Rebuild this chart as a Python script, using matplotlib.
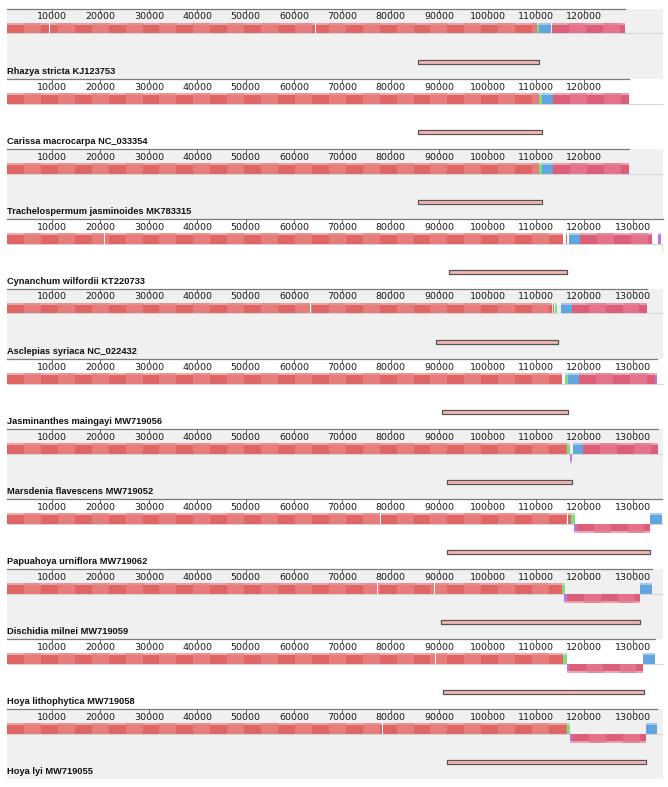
import numpy as np
import matplotlib
matplotlib.use("Agg")
import matplotlib.pyplot as plt

# ── genomes (top to bottom) ──
genomes = [
    "Rhazya stricta KJ123753",
    "Carissa macrocarpa NC_033354",
    "Trachelospermum jasminoides MK783315",
    "Cynanchum wilfordii KT220733",
    "Asclepias syriaca NC_022432",
    "Jasminanthes maingayi MW719056",
    "Marsdenia flavescens MW719052",
    "Papuahoya urniflora MW719062",
    "Dischidia milnei MW719059",
    "Hoya lithophytica MW719058",
    "Hoya lyi MW719055",
]
genome_len = [128400, 129300, 129300, 136200, 133000, 135060,
              135300, 135970, 133900, 134590, 134940]

# locally collinear blocks, (start, end) in bp, None = absent
red_lcb = [(700, 110270), (700, 110680), (700, 110620), (700, 115640),
           (700, 113240), (700, 115310), (700, 116340), (700, 116470),
           (700, 115310), (700, 115640), (700, 116470)]
red_extra = [None, None, None, (116200, 116400), (113450, 113720), None,
             None, (116670, 117200), None, None, None]
green_lcb = [(110270, 110680), (110680, 111180), (110620, 111240), None,
             (113930, 114300), (116030, 116710), (116340, 116960),
             (117200, 118060), (115310, 115990), (115640, 116340),
             (116470, 117030)]
blue_lcb = [(110680, 113100), (111180, 113570), (111240, 113570),
            (116880, 119090), (115170, 117380), (116670, 118950),
            (117640, 119770), (133550, 135970), (131490, 133900),
            (132170, 134590), (132670, 134940)]
pink_lcb = [(113300, 128390), (113570, 129280), (113570, 129280),
            (119090, 133900), (117380, 133000), (118950, 134590),
            (119770, 135270), (118410, 133550), (116340, 131490),
            (116760, 132170), (117440, 132670)]
pink_inverted = [False, False, False, False, False, False, False,
                 True, True, True, True]
purple_lcb = [None, None, None, (135270, 135770), None, (134590, 135060),
              (116960, 117500), (117910, 118410), (115850, 116340),
              (116340, 116760), (117030, 117440)]
purple_inverted = [False, False, False, False, False, False, True,
                   True, True, True, True]
yellow_lcb = [None, None, None, (135930, 136200), None, None, None,
              None, None, None, None]

# white gaps inside the first block
gaps = [[9380, 64340], [], [], [20740], [63300], [], [],
        [77800, 94000, 94200], [77100, 88900], [89150], [78120]]

# boxed region under each track
ir_box = [(85560, 110680), (85620, 111180), (85620, 111240),
          (92020, 116340), (89340, 114610), (90580, 116710),
          (91610, 117380), (91670, 133550), (90370, 131490),
          (90850, 132380), (91670, 132670)]

# ── style ──
W, H = 668, 787
PANEL = 70
TOP = 9
PX_PER_BP = 0.00484
X0_PX = 3.6
BG_START, BG_END = 700, 136300

COL_RED = ("#e06666", "#e77c7c")
COL_PINK = ("#dc5e78", "#e3728a")
COL_GREEN = "#7edc82"
COL_BLUE = "#62a6e0"
COL_PURPLE = "#c173e6"
COL_YELLOW = "#e8e89a"

fig = plt.figure(figsize=(W / 100, H / 100), dpi=100)
xlim = (-X0_PX / PX_PER_BP, (W - X0_PX) / PX_PER_BP)


def block(ax, span, colors, inverted=False, banded=False):
    if span is None:
        return
    s, e = span
    if inverted:
        solid, fuzz = (24.5, 7.2), (31.7, 2.4)
    else:
        solid, fuzz = (16.4, 8.1), (14.0, 2.4)
    base = colors[0] if banded else colors
    ax.broken_barh([(s, e - s)], solid, facecolors=base, lw=0, zorder=3)
    ax.broken_barh([(s, e - s)], fuzz, facecolors=base, alpha=0.55, lw=0, zorder=3)
    if banded:
        edges = np.arange(s, e, 3500)
        light = [(a, min(3500, e - a)) for a in edges[1::2]]
        ax.broken_barh(light, solid, facecolors=colors[1], lw=0, zorder=3)
        ax.broken_barh(light, fuzz, facecolors=colors[1], alpha=0.55, lw=0, zorder=3)


for i, name in enumerate(genomes):
    top_px = TOP + PANEL * i
    ax = fig.add_axes([0, 1 - (top_px + PANEL) / H, 1, PANEL / H])
    ax.set_xlim(*xlim)
    ax.set_ylim(PANEL, 0)
    ax.patch.set_visible(False)

    if i % 2 == 0:
        ax.broken_barh([(BG_START, BG_END - BG_START)], (0, PANEL),
                       facecolors="#f0f0f0", lw=0, zorder=0)
    ax.hlines(24.5, BG_START, BG_END, color="#d4d4d4", lw=0.7, zorder=1)

    block(ax, red_lcb[i], COL_RED, banded=True)
    block(ax, red_extra[i], COL_RED[0])
    block(ax, green_lcb[i], COL_GREEN)
    block(ax, blue_lcb[i], COL_BLUE)
    block(ax, pink_lcb[i], COL_PINK, inverted=pink_inverted[i], banded=True)
    block(ax, purple_lcb[i], COL_PURPLE, inverted=purple_inverted[i])
    block(ax, yellow_lcb[i], COL_YELLOW, inverted=True)
    for g in gaps[i]:
        ax.broken_barh([(g, 180)], (14, 10.5), facecolors="white", lw=0, zorder=4)

    b0, b1 = ir_box[i]
    ax.broken_barh([(b0, b1 - b0)], (50.6, 4.0), facecolors="#f7b6b6",
                   edgecolors="#555555", lw=0.9, zorder=3)

    ax.text(BG_START, 62.7, name, fontsize=6.7, fontweight="bold",
            family=["Liberation Sans", "DejaVu Sans"], va="center",
            ha="left", color="#111111", zorder=5)

    # coordinate ruler along the top spine
    for side in ("left", "right", "bottom"):
        ax.spines[side].set_visible(False)
    ax.spines["top"].set_bounds(BG_START, genome_len[i])
    ax.spines["top"].set_color("#7a7a7a")
    ax.spines["top"].set_linewidth(0.9)
    ax.xaxis.tick_top()
    ax.set_xticks(np.arange(10000, genome_len[i], 10000))
    ax.set_xticklabels([str(t) for t in range(10000, genome_len[i], 10000)])
    ax.tick_params(axis="x", direction="in", length=3.0, width=0.7,
                   color="#666666", pad=-9.0, labelsize=6.8,
                   labelcolor="#1a1a1a")
    ax.set_yticks([])

fig.savefig("out.png", dpi=100)
